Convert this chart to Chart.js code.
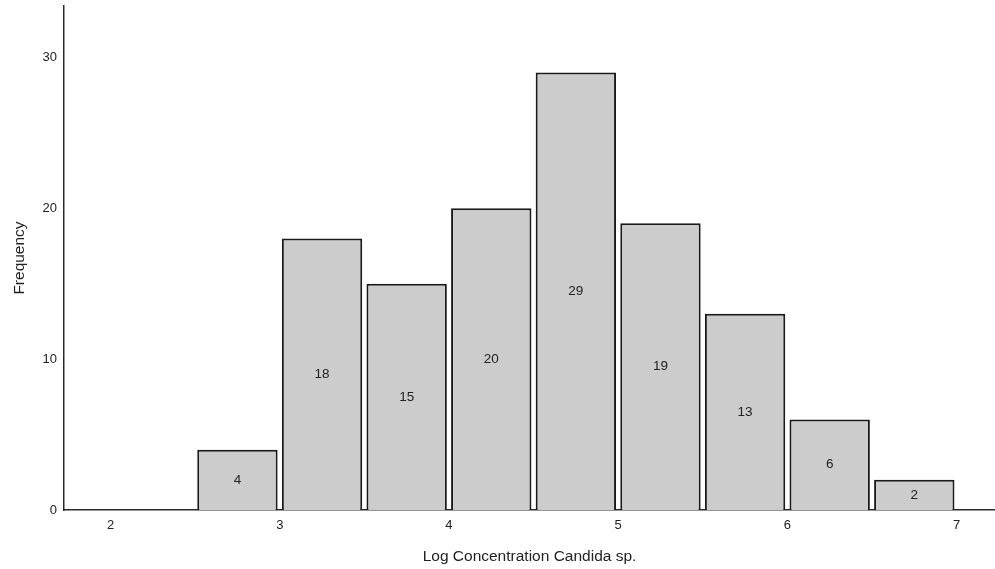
<!DOCTYPE html>
<html>
<head>
<meta charset="utf-8">
<script src="https://cdn.jsdelivr.net/npm/chart.js@4/dist/chart.umd.min.js"></script>
<style>
  html, body { margin: 0; padding: 0; background: #ffffff; }
  #wrap { width: 995px; height: 569px; position: relative; }
</style>
</head>
<body>
<div id="wrap"><canvas id="hist"></canvas></div>
<script>
// Histogram bins (width 0.5) and their counts
const binCenters = [2.75, 3.25, 3.75, 4.25, 4.75, 5.25, 5.75, 6.25, 6.75];
const frequencies = [4, 18, 15, 20, 29, 19, 13, 6, 2];
const xTickValues = [2, 3, 4, 5, 6, 7];
const yTickValues = [0, 10, 20, 30];
const xTitle = 'Log Concentration Candida sp.';
const yTitle = 'Frequency';

const FONT = '"Liberation Sans", Arial, sans-serif';
const INK = '#222222';

// Writes each bar's count in the middle of the bar
const barValueLabels = {
  id: 'barValueLabels',
  afterDatasetsDraw(chart) {
    const ctx = chart.ctx;
    const meta = chart.getDatasetMeta(0);
    ctx.save();
    ctx.font = '13.5px ' + FONT;
    ctx.fillStyle = INK;
    ctx.textAlign = 'center';
    ctx.textBaseline = 'middle';
    meta.data.forEach((bar, i) => {
      const v = chart.data.datasets[0].data[i].y;
      ctx.fillText(String(v), bar.x, (bar.y + bar.base) / 2);
    });
    ctx.restore();
  }
};

new Chart(document.getElementById('hist'), {
  type: 'bar',
  data: {
    datasets: [{
      data: binCenters.map((x, i) => ({ x: x, y: frequencies[i] })),
      backgroundColor: '#cccccc',
      borderColor: '#1a1a1a',
      borderWidth: 2,
      categoryPercentage: 1.0,
      barPercentage: 0.95
    }]
  },
  options: {
    responsive: true,
    maintainAspectRatio: false,
    animation: false,
    layout: { padding: { top: 6, right: 0, left: 0, bottom: 0 } },
    plugins: {
      legend: { display: false },
      tooltip: { enabled: false }
    },
    scales: {
      x: {
        type: 'linear',
        offset: false,
        min: 1.725,
        max: 7.227,
        afterBuildTicks: s => { s.ticks = xTickValues.map(v => ({ value: v })); },
        afterFit: s => { s.height = 59; s.paddingLeft = 0; s.paddingRight = 0; },
        grid: { display: false, drawTicks: false },
        border: { display: true, color: '#2a2a2a', width: 1.5 },
        ticks: {
          padding: 8,
          color: INK,
          font: { family: FONT, size: 13 },
          maxRotation: 0,
          autoSkip: false
        },
        title: {
          display: true,
          text: xTitle,
          color: INK,
          font: { family: FONT, size: 15.5 },
          padding: { top: 0, bottom: 3 }
        }
      },
      y: {
        type: 'linear',
        min: 0,
        max: 33.4,
        afterBuildTicks: s => { s.ticks = yTickValues.map(v => ({ value: v })); },
        afterFit: s => { s.width = 64; s.paddingTop = 0; s.paddingBottom = 0; },
        grid: { display: false, drawTicks: false },
        border: { display: true, color: '#2a2a2a', width: 1.5 },
        ticks: {
          padding: 7,
          color: INK,
          font: { family: FONT, size: 13 },
          autoSkip: false
        },
        title: {
          display: true,
          text: yTitle,
          color: INK,
          font: { family: FONT, size: 15.5 },
          padding: { top: 10, bottom: 0 }
        }
      }
    }
  },
  plugins: [barValueLabels]
});
</script>
</body>
</html>
